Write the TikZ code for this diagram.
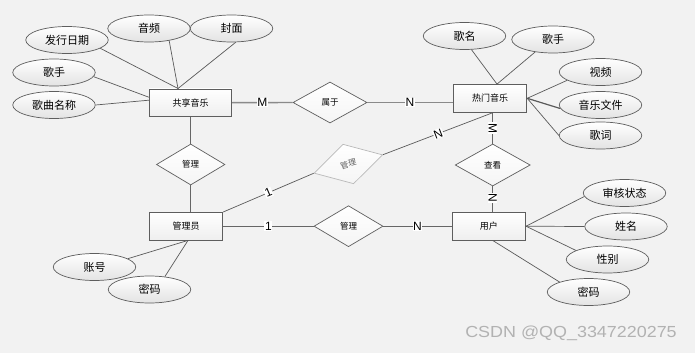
\documentclass[tikz,border=0pt]{standalone}
\usepackage{fontspec}
\setmainfont{Noto Sans CJK SC}
\newfontfamily\labfont{Liberation Sans}
\usetikzlibrary{shapes.geometric,calc}
\definecolor{bg}{HTML}{F2F2F2}
\definecolor{edgec}{HTML}{5E5E5E}
\definecolor{linec}{HTML}{5A5A5A}
\definecolor{hlinec}{HTML}{8A8A8A}
\definecolor{wmark}{HTML}{B2B2B2}
\tikzset{
  ent/.style={draw=edgec, line width=0.9pt, rectangle, minimum width=73.5pt, minimum height=27.5pt,
    inner sep=0pt, top color=white, bottom color=gray!13, font=\fontsize{9}{9}\selectfont},
  attr/.style={draw=edgec, line width=0.7pt, ellipse, minimum width=82.5pt, minimum height=27pt,
    inner sep=0pt, top color=white, bottom color=gray!22, font=\fontsize{11}{11}\selectfont},
  rel/.style={draw=edgec, line width=0.7pt, diamond, minimum width=70pt, minimum height=41pt,
    inner sep=0pt, top color=white, bottom color=gray!8, font=\fontsize{8.5}{8.5}\selectfont},
  conn/.style={draw=linec, line width=0.7pt},
  thickconn/.style={draw=hlinec, line width=1.4pt},
  midconn/.style={draw=gray!80!black, line width=1pt},
  card/.style={fill=white, inner sep=0.6pt, font=\labfont\fontsize{12}{12}\selectfont, text=black},
}
\begin{document}
\begin{tikzpicture}[x=1pt,y=-1pt]
\path[fill=bg,use as bounding box] (0,0) rectangle (695,353);

% entities
\node[ent, minimum width=82.5pt] (gx) at (190.5,102.7) {共享音乐};
\node[ent] (rm) at (490,98.3) {热门音乐};
\node[ent] (ad) at (186,226.2) {管理员};
\node[ent] (us) at (488.8,226.2) {用户};

% relationships
\node[rel, minimum width=74pt] (sy) at (330,102.5) {属于};
\node[rel, minimum width=68.5pt] (gl1) at (190.7,164.5) {管理};
\node[rel, minimum width=75pt, minimum height=42pt] (ck) at (492.7,165) {查看};
\node[rel, minimum width=69pt] (gl3) at (348.5,226.2) {管理};
\node[rel, draw=gray!55, minimum width=71pt, rotate=15, text=gray!75!black, font=\fontsize{8}{8}\selectfont] (gl2) at (348.3,164) {管理};

% attributes of 共享音乐
\node[attr] (fx) at (67,40) {发行日期};
\node[attr] (yp) at (149,28.5) {音频};
\node[attr] (fm) at (231.5,28.5) {封面};
\node[attr] (gs1) at (54,72.5) {歌手};
\node[attr] (gq) at (54,105) {歌曲名称};

% attributes of 热门音乐
\node[attr] (gm) at (464.5,36) {歌名};
\node[attr] (gs2) at (553,39.5) {歌手};
\node[attr] (sp) at (600.5,72) {视频};
\node[attr] (yw) at (600.5,105) {音乐文件};
\node[attr] (gc) at (600.5,135.5) {歌词};

% attributes of 管理员
\node[attr] (zh) at (94.5,267) {账号};
\node[attr] (mm1) at (149.5,289.5) {密码};

% attributes of 用户
\node[attr] (sh) at (624.5,193) {审核状态};
\node[attr] (xm) at (626,226.5) {姓名};
\node[attr] (xb) at (607.5,259.5) {性别};
\node[attr] (mm2) at (588.5,292) {密码};

% attribute connectors
\draw[conn] (fx.-14.5) -- ([xshift=-12.5pt]gx.north);
\draw[conn] (yp.-31) -- ([xshift=-12.5pt]gx.north);
\draw[conn] (fm.-73) -- ([xshift=-12.5pt]gx.north);
\draw[conn] (gs1.-6) -- ([yshift=5.5pt]gx.west);
\draw[conn] (gq.east) -- ([yshift=2.5pt]gx.west);

\draw[conn] (gm.-63) -- ([xshift=7pt]rm.north);
\draw[conn] (gs2.-145) -- ([xshift=7pt]rm.north);
\draw[conn] (sp.-166) -- (rm.east);
\draw[conn, line width=1.2pt] (yw.-175) -- (rm.east);
\draw[conn] (gc.west) -- (rm.east);

\draw[conn] (zh.14) -- ([xshift=2pt]ad.south);
\draw[conn] (mm1.40) -- ([xshift=2pt]ad.south);

\draw[conn] (sh.-175) -- (us.east);
\draw[conn] (xm.west) -- (us.east);
\draw[conn] (xb.164) -- (us.east);
\draw[conn] (mm2.161) -- ([xshift=3.8pt]us.south);

% relationship connectors
\draw[thickconn] (gx.east) -- node[card] {M} (sy.west);
\draw[thickconn] (sy.east) -- node[card] {N} (sy.east -| rm.west);
\draw[midconn] (gx.south -| gl1.north) -- (gl1.north);
\draw[midconn] (gl1.south) -- (gl1.south |- ad.north);
\draw[midconn] (ck.north |- rm.south) -- node[card, rotate=-90] {M} (ck.north);
\draw[midconn] (ck.south) -- node[card, rotate=-90, pos=0.45] {N} (ck.south |- us.north);
\draw[midconn] (ad.east) -- node[card] {1} (gl3.west);
\draw[midconn] (gl3.east) -- node[card] {N} (us.west);
\draw[conn] (ad.north east) -- node[card, sloped] {1} (gl2.west);
\draw[conn] (gl2.east) -- node[card, sloped] {N} ([xshift=3.3pt]rm.south);

% watermark
\node[font=\labfont\fontsize{16}{16}\selectfont, text=wmark, xscale=1.12, inner sep=0pt] (wm) at (571,333) {CSDN @QQ\_3347220275};
\end{tikzpicture}
\end{document}
